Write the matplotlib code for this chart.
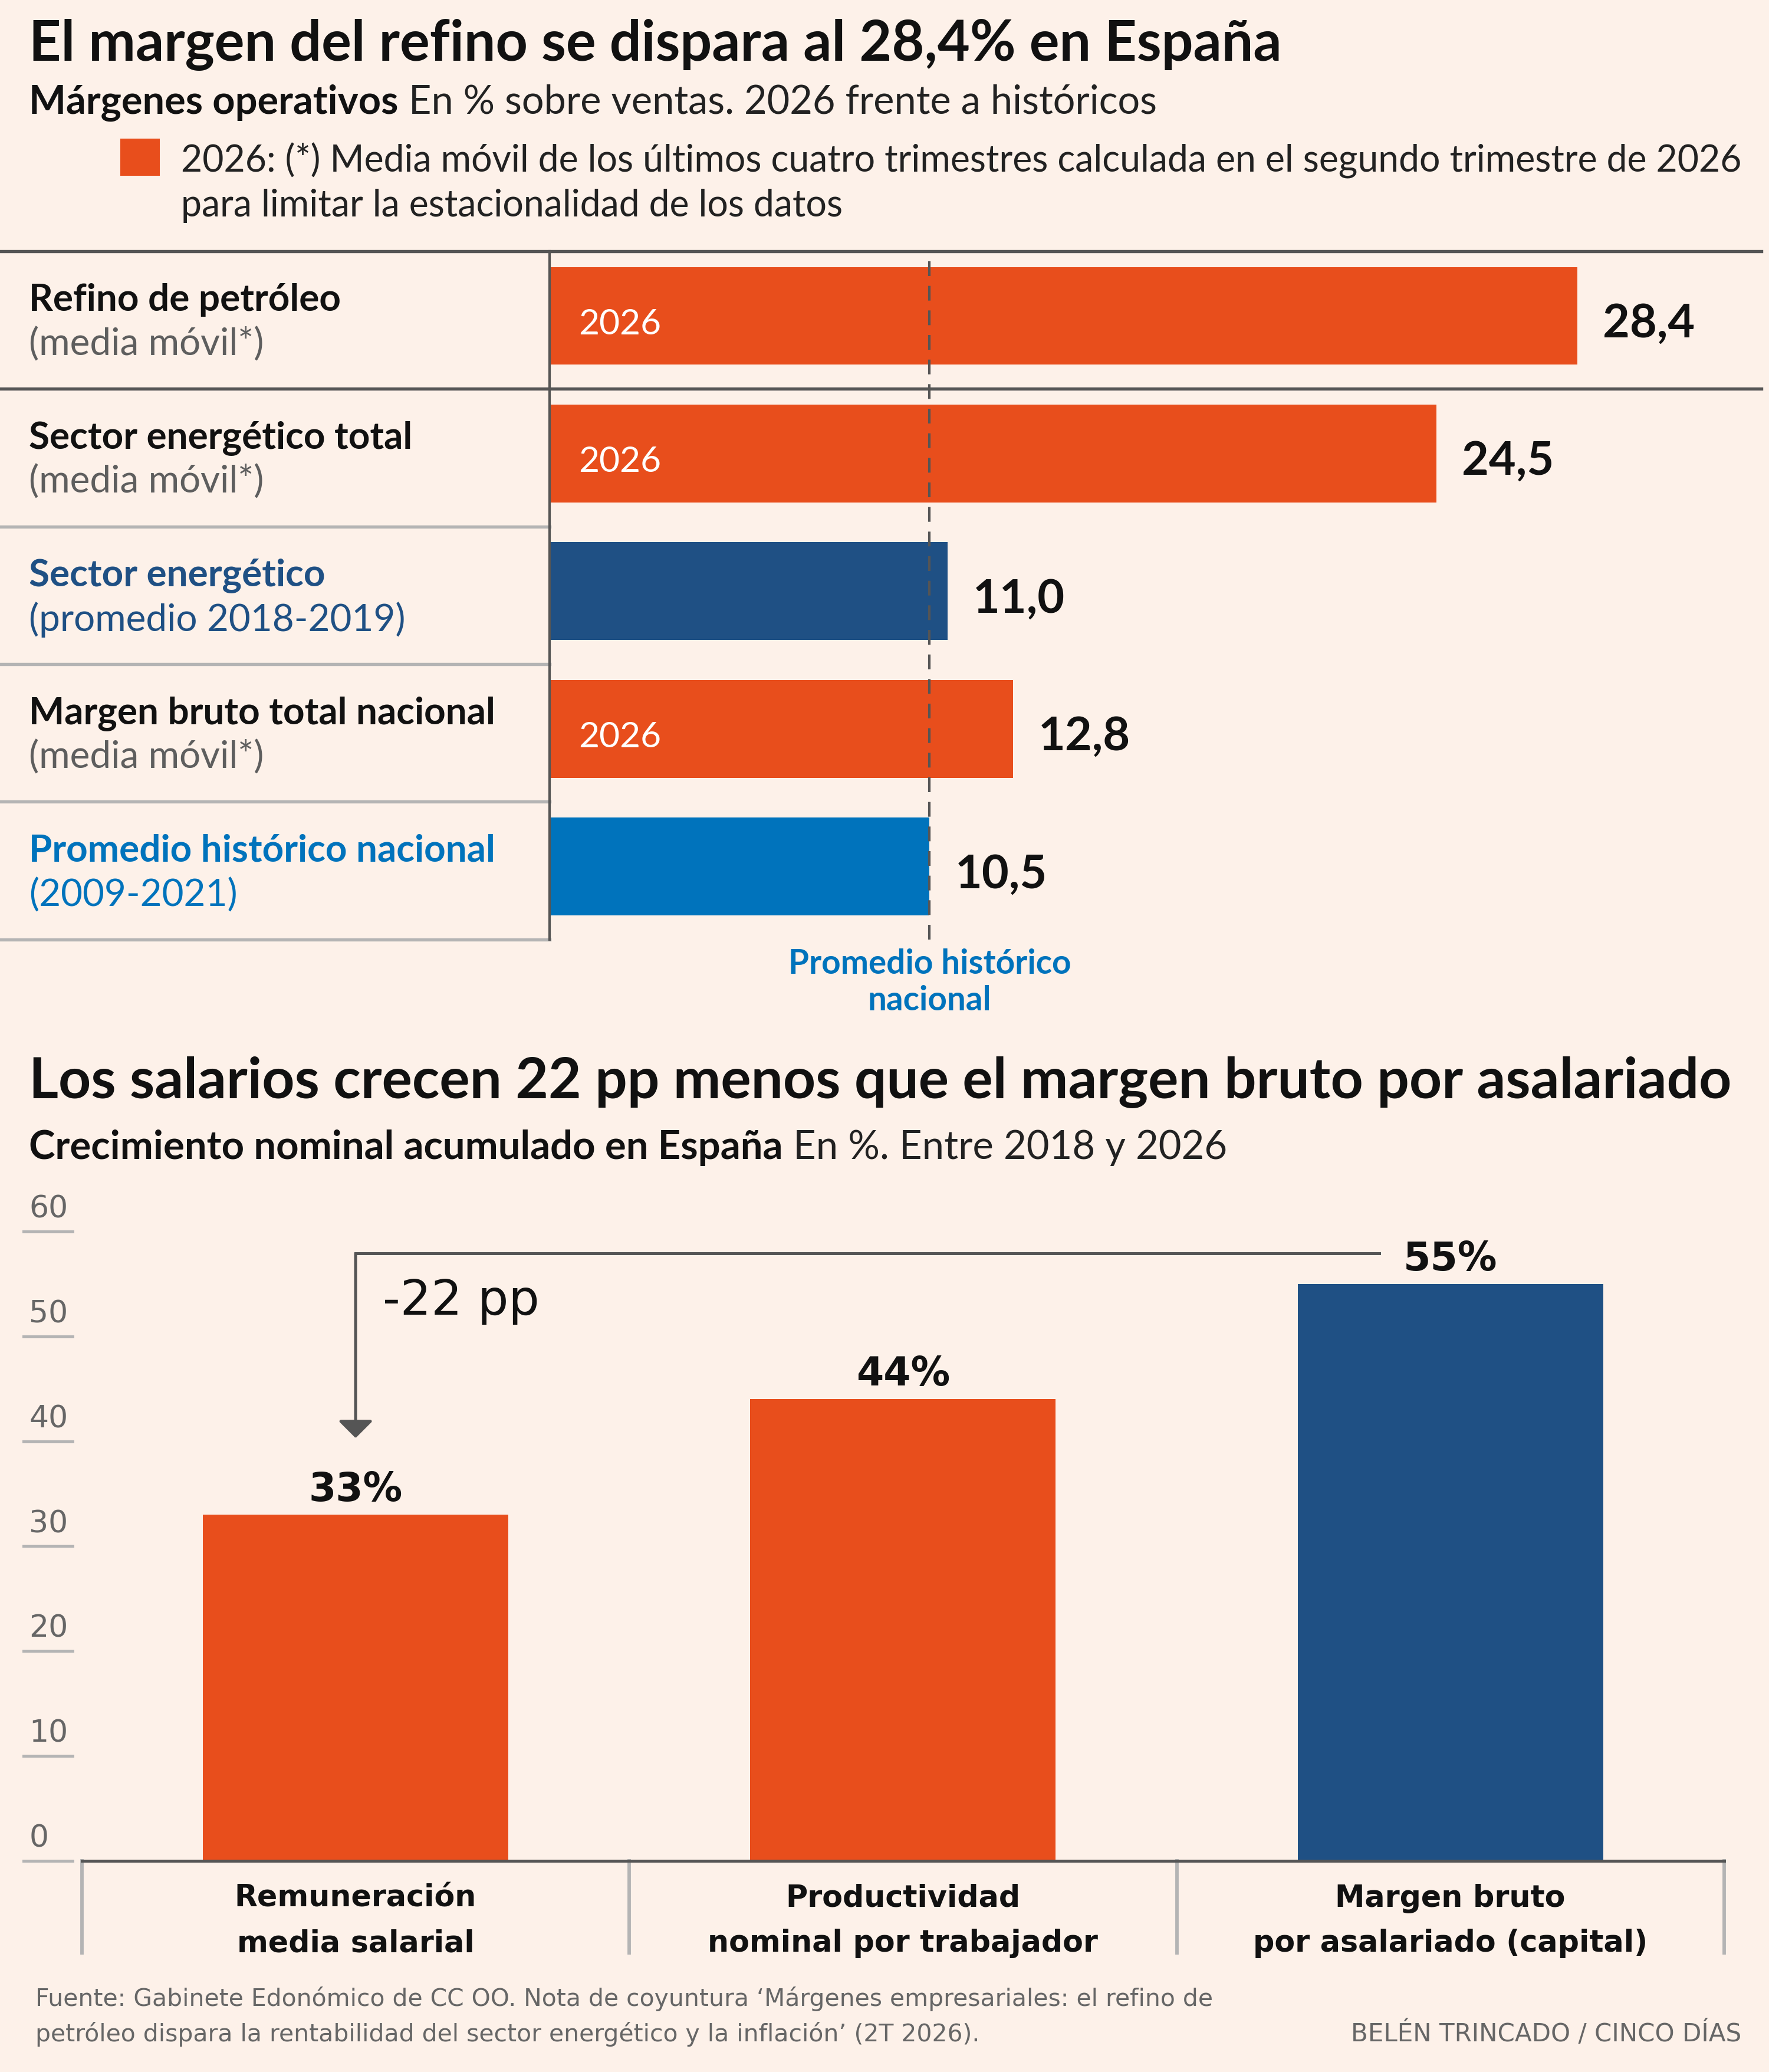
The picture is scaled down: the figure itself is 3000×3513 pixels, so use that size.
import numpy as np
import matplotlib
matplotlib.use('Agg')
import matplotlib.pyplot as plt
from matplotlib.patches import Rectangle

# ---- data: margenes operativos (top chart)
rows_main = ['Refino de petróleo', 'Sector energético total', 'Sector energético',
             'Margen bruto total nacional', 'Promedio histórico nacional']
rows_sub = ['(media móvil*)', '(media móvil*)', '(promedio 2018-2019)',
            '(media móvil*)', '(2009-2021)']
margins = [28.4, 24.5, 11.0, 12.8, 10.5]
bar_tags = ['2026', '2026', '', '2026', '']
avg_hist = 10.5

# ---- data: crecimiento nominal acumulado (bottom chart)
cats = ['Remuneración\nmedia salarial', 'Productividad\nnominal por trabajador',
        'Margen bruto\npor asalariado (capital)']
growth = [33, 44, 55]
yticks = [0, 10, 20, 30, 40, 50, 60]

# colours
BG = '#FDF1E9'
ORANGE = '#E84E1C'
DBLUE = '#1F5084'
BLUE = '#0073BC'
DGRAY = '#555555'
LGRAY = '#B4B4B4'
TGRAY = '#5E5E5E'

bar_cols = [ORANGE, ORANGE, DBLUE, ORANGE, BLUE]
lab_cols = [('#111111', TGRAY), ('#111111', TGRAY), (DBLUE, DBLUE),
            ('#111111', TGRAY), (BLUE, BLUE)]
col_cols = [ORANGE, ORANGE, DBLUE]

SANS = 'Lato'
GEO = 'DejaVu Sans'

# layout is worked out on a 1339 x 1568 grid, saved at 3000 x 3513
W, H = 1339, 1568
fig = plt.figure(figsize=(10, 3513 / 300), dpi=300)
fig.patch.set_facecolor(BG)


def box(x0, y0, x1, y1):
    return [x0 / W, 1 - y1 / H, (x1 - x0) / W, (y1 - y0) / H]


bg = fig.add_axes([0, 0, 1, 1])
bg.set_xlim(0, W)
bg.set_ylim(H, 0)
bg.axis('off')
bg.set_zorder(0)

renderer = fig.canvas.get_renderer()


def two_part(x, y, bold, rest, size):
    t = bg.text(x, y, bold, fontsize=size, fontweight='bold', family=SANS,
                color='#111111', va='baseline')
    bb = t.get_window_extent(renderer)
    x2 = x + bb.width / fig.bbox.width * W
    bg.text(x2, y, ' ' + rest, fontsize=size, family=SANS, color='#222222', va='baseline')


# ---------------- top part
bg.text(22, 46, 'El margen del refino se dispara al 28,4% en España', fontsize=22.8,
        fontweight='bold', family=SANS, color='#111111', va='baseline')
two_part(22, 86, 'Márgenes operativos', 'En % sobre ventas. 2026 frente a históricos', 16)
bg.add_patch(Rectangle((91, 105), 30, 28, color=ORANGE, lw=0))
bg.text(137, 130, '2026: (*) Media móvil de los últimos cuatro trimestres calculada en el segundo trimestre de 2026',
        fontsize=15, family=SANS, color='#222222', va='baseline')
bg.text(137, 164, 'para limitar la estacionalidad de los datos',
        fontsize=15, family=SANS, color='#222222', va='baseline')

ax = fig.add_axes(box(416, 190, 1333, 711))
ax.set_facecolor('none')
ax.set_zorder(2)
px_per_unit = (1194 - 416) / 28.4
ax.set_xlim(0, (1333 - 416) / px_per_unit)
ax.set_ylim(len(margins), 0)
ax.axis('off')

ypos = np.arange(len(margins)) + 0.47
ax.barh(ypos, margins, height=0.71, color=bar_cols, lw=0, zorder=2)
ax.axvline(avg_hist, color=DGRAY, lw=1.0, ls=(0, (6, 4)), zorder=3)
ax.plot([0, 0], [0, len(margins)], color=DGRAY, lw=1.0, zorder=4, clip_on=False)

tr = ax.get_yaxis_transform()
lx = (22 - 416) / (1333 - 416)
for i, v in enumerate(margins):
    ax.text(v + 0.7, ypos[i] + 0.03, f'{v:.1f}'.replace('.', ','), fontsize=19,
            fontweight='bold', family=SANS, color='#111111', va='center_baseline')
    if bar_tags[i]:
        ax.text(0.8, ypos[i] + 0.04, bar_tags[i], fontsize=14.5, family=SANS,
                color='white', va='center_baseline', zorder=5)
    ax.text(lx, i + 0.432, rows_main[i], transform=tr, fontsize=15.3, fontweight='bold',
            family=SANS, color=lab_cols[i][0], va='baseline')
    ax.text(lx, i + 0.758, rows_sub[i], transform=tr, fontsize=15.3,
            family=SANS, color=lab_cols[i][1], va='baseline')

ax.text(avg_hist, len(margins) + 0.31, 'Promedio histórico\nnacional', fontsize=13.6,
        fontweight='bold', family=SANS, color=BLUE, ha='center', va='center',
        linespacing=1.2)

# frame lines of the table
bg.plot([0, 1333], [190, 190], color=DGRAY, lw=1.3)
bg.plot([0, 1333], [294.2, 294.2], color=DGRAY, lw=1.3)
for k in range(2, len(margins) + 1):
    yy = 190 + k * 104.2
    bg.plot([0, 416], [yy, yy], color=LGRAY, lw=1.3)

# ---------------- bottom part
bg.text(22, 831, 'Los salarios crecen 22 pp menos que el margen bruto por asalariado',
        fontsize=23.1, fontweight='bold', family=SANS, color='#111111', va='baseline')
two_part(22, 877, 'Crecimiento nominal acumulado en España', 'En %. Entre 2018 y 2026', 16.1)

ax2 = fig.add_axes(box(62, 932, 1305, 1408))
ax2.set_facecolor('none')
ax2.set_zorder(2)
ax2.set_xlim(-0.5, len(growth) - 0.5)
ax2.set_ylim(0, 60)
ax2.axis('off')

xpos = np.arange(len(growth))
ax2.bar(xpos, growth, width=0.558, color=col_cols, lw=0, zorder=2)

ytr = ax2.get_yaxis_transform()
for v in yticks:
    ax2.plot([-0.0354, -0.0056], [v, v], transform=ytr, color=LGRAY, lw=1.2, clip_on=False)
    ax2.text(-0.0322, v + 1.3, str(v), transform=ytr, fontsize=12.5, family=GEO,
             color='#666666', va='baseline')

ax2.plot([-0.5, len(growth) - 0.5], [0, 0], color=DGRAY, lw=1.2, clip_on=False, zorder=3)
for b in np.arange(-0.5, len(growth), 1.0):
    ax2.plot([b, b], [0, -8.8], color=LGRAY, lw=1.4, clip_on=False)

for i, v in enumerate(growth):
    ax2.text(i, v + 1.3, f'{v}%', fontsize=16, fontweight='bold', family=GEO,
             color='#111111', ha='center', va='baseline')
    l1, l2 = cats[i].split('\n')
    ax2.text(i, -3.3, l1, fontsize=12.2, fontweight='bold', family=GEO,
             color='#111111', ha='center', va='center_baseline')
    ax2.text(i, -7.6, l2, fontsize=12.2, fontweight='bold', family=GEO,
             color='#111111', ha='center', va='center_baseline')

# bracket showing the gap between wages and capital margin
gap = growth[0] - growth[-1]
top_y = 57.9
ax2.plot([0, len(growth) - 1 - 0.13], [top_y, top_y], color=DGRAY, lw=1.2, clip_on=False)
ax2.annotate('', xy=(0, growth[0] + 7.3), xytext=(0, top_y),
             arrowprops=dict(arrowstyle='-|>,head_width=0.6,head_length=0.6',
                             color=DGRAY, lw=1.2, shrinkA=0, shrinkB=0))
ax2.text(0.05, 53.8, f'{gap} pp', fontsize=19.8, family=GEO, color='#111111',
         va='center_baseline')

# footer
bg.text(27, 1518, 'Fuente: Gabinete Edonómico de CC OO. Nota de coyuntura ‘Márgenes empresariales: el refino de',
        fontsize=9.8, family=GEO, color='#666666', va='baseline')
bg.text(27, 1545, 'petróleo dispara la rentabilidad del sector energético y la inflación’ (2T 2026).',
        fontsize=9.8, family=GEO, color='#666666', va='baseline')
bg.text(1318, 1545, 'BELÉN TRINCADO / CINCO DÍAS', fontsize=10.1, family=GEO,
        color='#666666', va='baseline', ha='right')

fig.savefig('out.png', dpi=300, facecolor=BG)
